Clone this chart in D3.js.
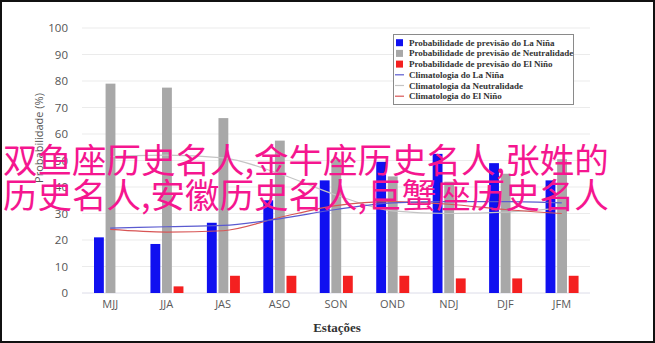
<!DOCTYPE html>
<html><head><meta charset="utf-8">
<script src="https://cdn.jsdelivr.net/npm/d3@7"></script>
<style>html,body{margin:0;padding:0;background:#fff;}svg{display:block;}</style>
</head><body>
<script>
const categories = ["MJJ","JJA","JAS","ASO","SON","OND","NDJ","DJF","JFM"];
const laNina =   [21, 18.5, 26.5, 35, 42.5, 49.5, 52.5, 49, 42.5];
const neutral =  [79, 77.5, 66, 57.5, 50.5, 44, 42, 45, 50.5];
const elNino =   [0, 2.5, 6.5, 6.5, 6.5, 6.5, 5.5, 5.5, 6.5];
const climLaNina =  [24.5, 25, 25.5, 28, 31.5, 34, 34.5, 34.5, 34];
const climNeutral = [51.5, 52, 51, 45, 37, 31, 30, 30.5, 32];
const climElNino =  [24, 23, 23.5, 28.5, 33, 34.5, 33.5, 31.5, 30];
const yTicks = [0,10,20,30,40,50,60,70,80,90,100];
const legendLabels = ["Probabilidade de previsão do La Niña","Probabilidade de previsão de Neutralidade","Probabilidade de previsão do El Niño","Climatologia do La Niña","Climatologia da Neutralidade","Climatologia do El Niño"];
const overlayLines = ["双鱼座历史名人,金牛座历史名人,张姓的","历史名人,安徽历史名人,巨蟹座历史名人"];

const W = 655, H = 343;
const svg = d3.select("body").append("svg").attr("width", W).attr("height", H);
svg.append("rect").attr("x",1).attr("y",1).attr("width",W-2).attr("height",H-2).attr("fill","#fff").attr("stroke","#111").attr("stroke-width",2);

const x0 = d3.scaleBand().domain(categories).range([82, 590]).padding(0);
const series = ["n","u","e"];
const x1 = d3.scaleBand().domain(series).range([12, 45]).paddingInner(0.15);
const y = d3.scaleLinear().domain([0,100]).range([293, 28]);

// gridlines
svg.append("g").selectAll("line").data(yTicks).join("line")
  .attr("x1", 82).attr("x2", 590).attr("y1", d=>y(d)).attr("y2", d=>y(d))
  .attr("stroke", d => d===0 ? "#dcdce8" : "#ebebeb").attr("stroke-width", 1);

// y axis labels
const yAxis = d3.axisLeft(y).tickValues(yTicks).tickSize(0).tickPadding(0);
const gy = svg.append("g").attr("transform","translate(68,0)").call(yAxis);
gy.select(".domain").remove();
gy.selectAll("text").attr("font-family","'Open Sans', sans-serif").attr("font-size",11.5).attr("fill","#555");

// x axis labels
const xAxis = d3.axisBottom(x0).tickSize(0).tickPadding(0);
const gx = svg.append("g").attr("transform","translate(0,300)").call(xAxis);
gx.select(".domain").remove();
gx.selectAll("text").attr("font-family","'Open Sans', sans-serif").attr("font-size",11).attr("fill","#5a5a5a");

// bars
const colors = {n:"#1010f0", u:"#a8a8a8", e:"#f42020"};
const vals = {n:laNina, u:neutral, e:elNino};
series.forEach(s => {
  svg.append("g").selectAll("rect").data(categories).join("rect")
    .attr("x", (c)=>x0(c)+x1(s))
    .attr("width", x1.bandwidth())
    .attr("y", (c,i)=>y(vals[s][i]))
    .attr("height", (c,i)=>y(0)-y(vals[s][i]))
    .attr("fill", colors[s]);
});

// climatology lines
const line = d3.line().x((d,i)=>x0(categories[i])+x0.bandwidth()/2).y(d=>y(d)).curve(d3.curveMonotoneX);
[[climNeutral,"#c4c4c4"],[climElNino,"#d85555"],[climLaNina,"#5a5ad0"]].forEach(([arr,col])=>{
  svg.append("path").attr("d", line(arr)).attr("fill","none").attr("stroke",col).attr("stroke-width",1.2);
});

// y title
svg.append("text").attr("transform","translate(43,138) rotate(-90)").attr("text-anchor","middle")
  .attr("font-family","'Open Sans', sans-serif").attr("font-size",11).attr("fill","#555").text("Probabilidade (%)");
// x title
svg.append("text").attr("x",337).attr("y",332).attr("text-anchor","middle")
  .attr("font-family","'Liberation Serif', serif").attr("font-weight","bold").attr("font-size",13).attr("fill","#333").text("Estações");

// legend
const lg = svg.append("g");
lg.append("rect").attr("x",393.5).attr("y",34.5).attr("width",180).attr("height",70).attr("fill","#fff").attr("stroke","#8a8a8a").attr("stroke-width",1);
const legendColors = ["#1010f0","#a8a8a8","#f42020","#5a5ad0","#c4c4c4","#d85555"];
legendLabels.forEach((t,i)=>{
  const cy = 42.7 + i*10.7;
  if (i<3) lg.append("rect").attr("x",396).attr("y",cy-3.5).attr("width",7).attr("height",7).attr("fill",legendColors[i]);
  else lg.append("line").attr("x1",395).attr("x2",404).attr("y1",cy).attr("y2",cy).attr("stroke",legendColors[i]).attr("stroke-width",1.2);
  lg.append("text").attr("x",409).attr("y",cy+3).attr("font-family","'Liberation Serif', serif").attr("font-weight","bold").attr("font-size",9).attr("fill","#333").text(t);
});

// overlay text
overlayLines.forEach((t,i)=>{
  svg.append("text").attr("x",3).attr("y",[158,193][i]).attr("dominant-baseline","central")
    .attr("font-family","'Noto Sans CJK SC', sans-serif").attr("font-size",34.5).attr("fill","#f5168f").text(t);
});
</script>
</body></html>
